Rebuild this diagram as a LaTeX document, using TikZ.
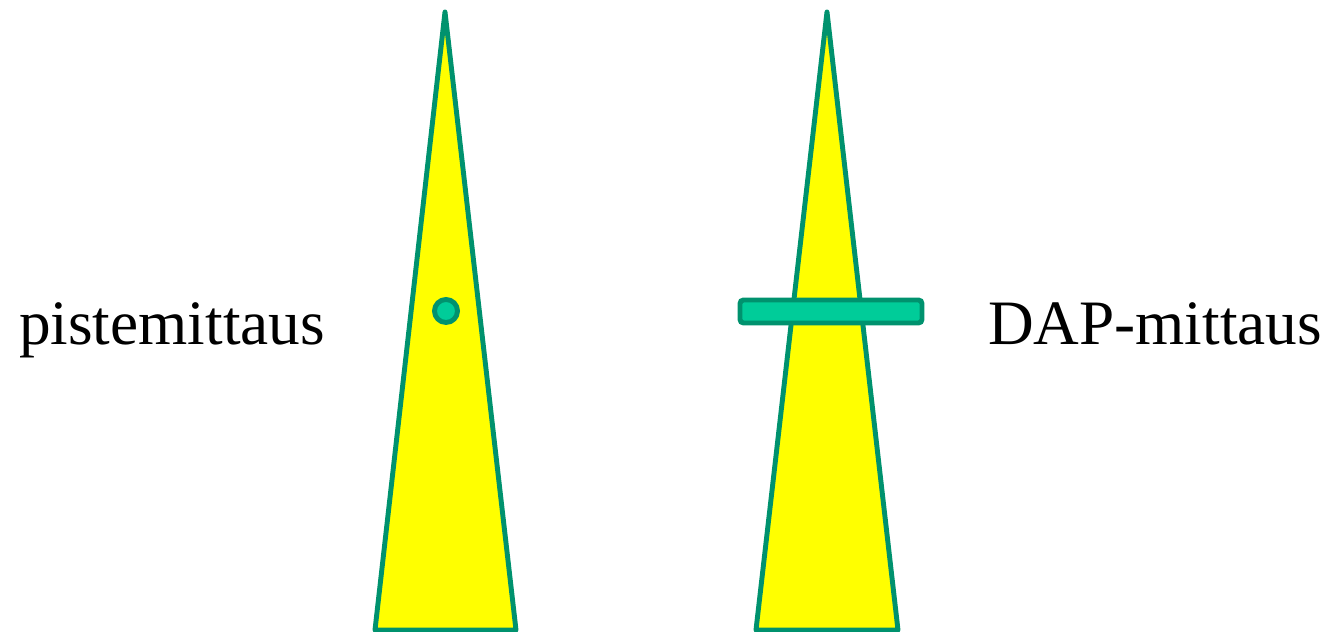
\documentclass[tikz,border=0pt]{standalone}
\usepackage{fontspec}
\setmainfont{Liberation Serif}
\usepackage{tikz}
\usetikzlibrary{positioning}

\definecolor{rimgreen}{RGB}{0,146,110}
\definecolor{barfill}{RGB}{0,204,153}
\definecolor{coneyellow}{RGB}{255,255,0}

\tikzset{
    cone/.style={draw=rimgreen, fill=coneyellow, line width=1.4pt, line join=round},
    probe/.style={draw=rimgreen, fill=barfill, line width=1.4pt},
    caption/.style={font=\fontsize{18}{20}\selectfont, anchor=base, inner sep=0pt}
}

\begin{document}
\begin{tikzpicture}[x=0.1mm, y=0.1mm]
    \useasboundingbox (0,0) rectangle (1328,632);

    % Kartiot
    \draw[cone] (445,620) -- (516,2) -- (375,2) -- cycle;
    \draw[cone] (827,620) -- (898,2) -- (756,2) -- cycle;

    % Pistemittaus ja DAP-mittaus
    \draw[probe] (446,321) circle (11.5);
    \draw[probe, rounded corners=1pt] (740,309) rectangle (922,332);

    % Tekstit
    \node[caption] (pointlabel) at (172,287) {pistemittaus};
    \node[caption] (daplabel) at (1155,287) {DAP-mittaus};
\end{tikzpicture}
\end{document}
